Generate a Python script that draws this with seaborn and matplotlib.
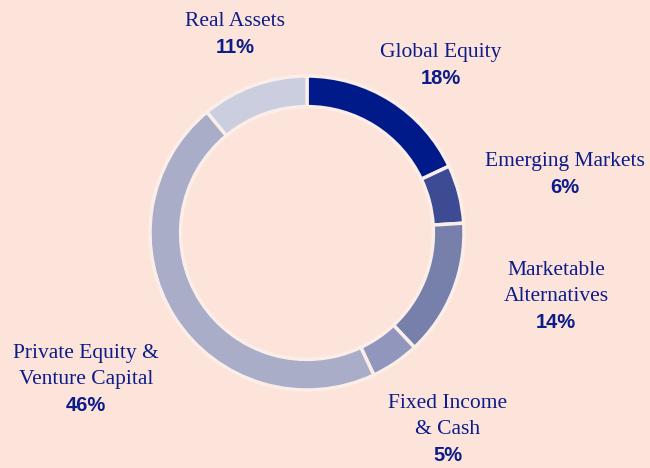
import matplotlib
matplotlib.use("Agg")
import matplotlib.pyplot as plt
import seaborn as sns

# data
categories = ["Global Equity", "Emerging Markets", "Marketable\nAlternatives",
              "Fixed Income\n& Cash", "Private Equity &\nVenture Capital", "Real Assets"]
shares = [18, 6, 14, 5, 46, 11]
colors = ["#001a8a", "#3d4a94", "#777fab", "#9197bc", "#a9adc8", "#cbcedf"]

# label anchor points (pixels from top-left): name centre x, top of name
label_pos = [(441, 43), (565, 152), (556, 261), (448, 394), (86, 344), (235, 12)]

bg = "#fde4da"
navy = "#0c1c88"

sns.set_theme(style="white")
plt.rcParams["font.family"] = ["Liberation Serif", "DejaVu Serif"]

W, H = 650, 468
fig = plt.figure(figsize=(6.5, 4.68), dpi=100, facecolor=bg)
cx, cy, r = 307, 233, 157
ax = fig.add_axes([(cx - r) / W, (H - cy - r) / H, 2 * r / W, 2 * r / H])
ax.set_facecolor(bg)

ax.pie(shares, colors=sns.color_palette(colors), startangle=90, counterclock=False,
       radius=1, wedgeprops=dict(width=0.195, edgecolor="#fbeee9", linewidth=2.5))
ax.set_xlim(-1, 1)
ax.set_ylim(-1, 1)
ax.set_aspect("equal")
ax.axis("off")

line_h = 26
for name, val, (x, y) in zip(categories, shares, label_pos):
    lines = name.split("\n")
    for i, ln in enumerate(lines):
        fig.text(x / W, 1 - (y + i * line_h) / H, ln, ha="center", va="top",
                 fontsize=15.5, color=navy)
    fig.text(x / W, 1 - (y + len(lines) * line_h) / H, f"{val}%", ha="center",
             va="top", fontsize=14.5, fontweight="bold", color=navy,
             family=["Liberation Sans", "DejaVu Sans"])

fig.savefig("out.png", dpi=100, facecolor=bg)
